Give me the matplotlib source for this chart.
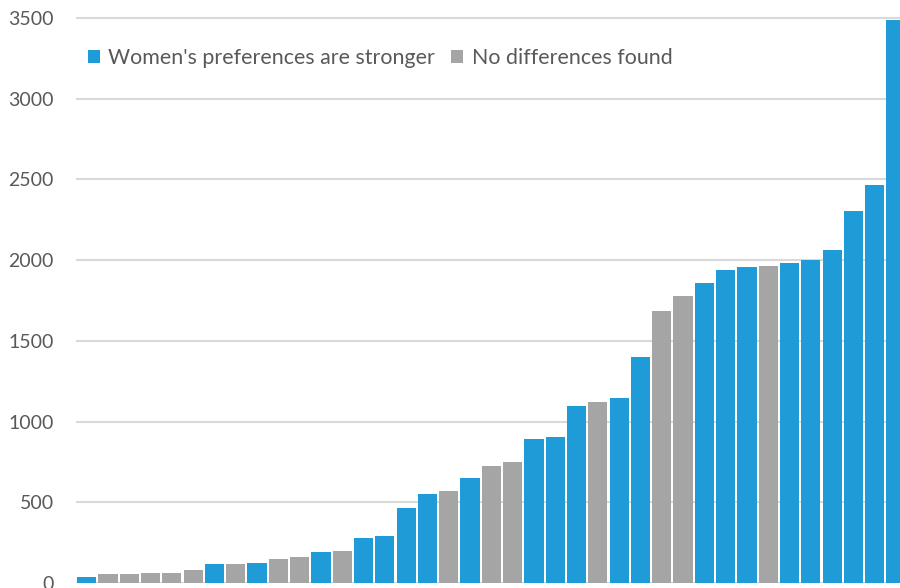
import matplotlib.pyplot as plt
from matplotlib.patches import Patch

# values, sorted ascending as in the original
values = [35, 56, 56, 64, 64, 78, 116, 118, 124, 147, 163, 192, 198, 279, 291,
          463, 549, 569, 652, 723, 748, 889, 905, 1099, 1122, 1147, 1398, 1684,
          1777, 1859, 1938, 1956, 1962, 1983, 2000, 2064, 2307, 2468, 3490]
# W = women's preferences are stronger, N = no differences found
groups = ['W', 'N', 'N', 'N', 'N', 'N', 'W', 'N', 'W', 'N', 'N', 'W', 'N', 'W', 'W',
          'W', 'W', 'N', 'W', 'N', 'N', 'W', 'W', 'W', 'N', 'W', 'W', 'N',
          'N', 'W', 'W', 'W', 'N', 'W', 'W', 'W', 'W', 'W', 'W']
yticks = [0, 500, 1000, 1500, 2000, 2500, 3000, 3500]
legend_labels = ["Women's preferences are stronger", "No differences found"]

blue = '#1f9bd7'
grey = '#a5a5a5'
colors = [blue if g == 'W' else grey for g in groups]

plt.rcParams['font.family'] = ['Lato', 'DejaVu Sans']

W, H = 900, 588
fig = plt.figure(figsize=(W / 100, H / 100), dpi=100)
# plot area runs off the right edge of the picture, as in the cropped original
ax = fig.add_axes([76 / W, 5 / H, (W - 76) / W, (H - 5) / H])

x = list(range(len(values)))
ax.bar(x, values, width=0.9, color=colors, zorder=2)

ax.set_xlim(-0.5, -0.5 + (W - 76) / 21.3)
ax.set_ylim(0, 3500 * 583 / (583 - 18))
ax.set_yticks(yticks)
ax.set_xticks([])
ax.yaxis.grid(True, color='#d9d9d9', linewidth=1.5, zorder=0)
ax.tick_params(axis='y', length=0, pad=16, labelsize=14, labelcolor='#595959')
for s in ax.spines.values():
    s.set_visible(False)

handles = [Patch(facecolor=blue), Patch(facecolor=grey)]
fig.legend(handles, legend_labels, loc='center left', ncol=2,
           bbox_to_anchor=(88 / W, (H - 58) / H), bbox_transform=fig.transFigure,
           frameon=False, fontsize=15.4, labelcolor='#595959',
           handlelength=0.55, handleheight=0.55, handletextpad=0.4,
           columnspacing=0.75, borderpad=0, borderaxespad=0)

fig.savefig('out.png', dpi=100)
